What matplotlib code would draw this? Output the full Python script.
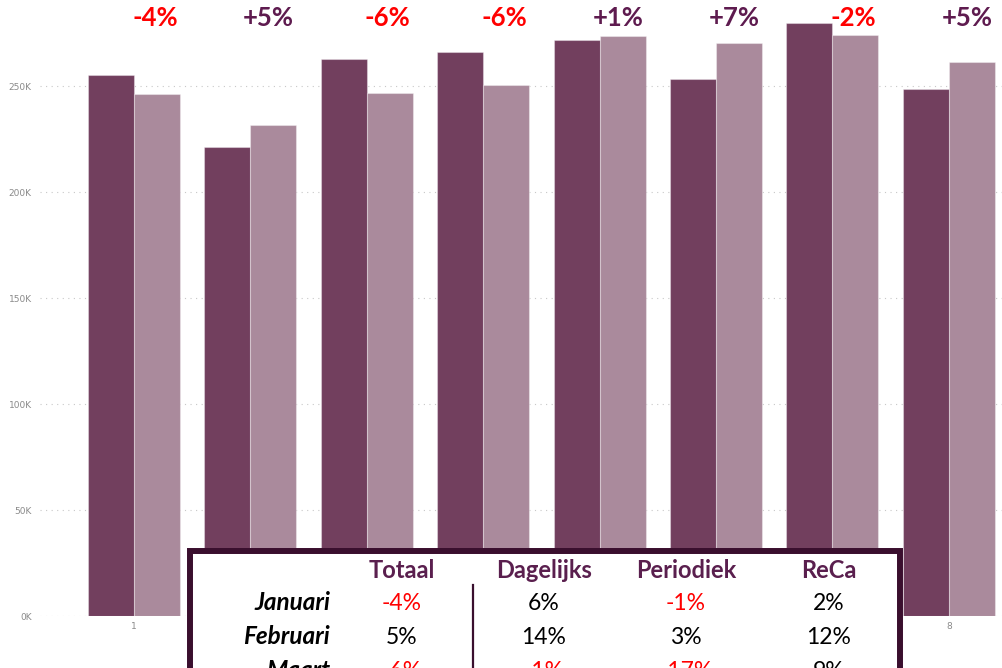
import matplotlib
matplotlib.use("Agg")
import matplotlib.pyplot as plt
from matplotlib.patches import Rectangle
from matplotlib.ticker import FuncFormatter
import numpy as np

# waarden per groep (in K)
categories = ["1", "2", "3", "4", "5", "6", "7", "8"]
vorig_jaar = [255.4, 221.3, 262.8, 266.1, 271.8, 253.7, 280.1, 248.8]
dit_jaar = [246.3, 231.8, 246.8, 250.6, 273.8, 270.7, 274.3, 261.6]
verschil = ["-4%", "+5%", "-6%", "-6%", "+1%", "+7%", "-2%", "+5%"]

# tabel
kolommen = ["Totaal", "Dagelijks", "Periodiek", "ReCa"]
maanden = ["Januari", "Februari", "Maart"]
tabel = [["-4%", "6%", "-1%", "2%"],
         ["5%", "14%", "3%", "12%"],
         ["-6%", "-1%", "-17%", "9%"]]

donker = "#723f5e"
licht = "#aa8a9c"
rood = "#ff0000"
paars = "#5e1b4f"

W, H = 1003, 668
fig = plt.figure(figsize=(W / 100, H / 100), dpi=100)
ax = fig.add_axes([40 / W, 1 - 616 / H, (W - 40) / W, 616 / H])

x = np.arange(len(categories))
bw = 0.395
ax.bar(x - bw / 2, vorig_jaar, bw, color=donker, edgecolor=(1, 1, 1, 0.35), linewidth=0.8, zorder=2)
ax.bar(x + bw / 2, dit_jaar, bw, color=licht, edgecolor=(1, 1, 1, 0.35), linewidth=0.8, zorder=2)

ax.set_xlim(-0.808, 7.466)
ax.set_ylim(0, 290.8)
ax.set_yticks([0, 50, 100, 150, 200, 250])
ax.yaxis.set_major_formatter(FuncFormatter(lambda v, p: f"{int(v)}K"))
ax.set_xticks(x)
ax.set_xticklabels(categories)
ax.tick_params(axis="both", length=0, labelsize=6.5, labelcolor="#8a8a8a")
ax.tick_params(axis="y", pad=6)
ax.tick_params(axis="x", pad=4)
ax.grid(axis="y", linestyle=(0, (1, 4)), color="#c8c8c8", linewidth=0.8, zorder=0)
for s in ax.spines.values():
    s.set_visible(False)

for i, lab in enumerate(verschil):
    kleur = rood if lab.startswith("-") else paars
    ax.text(i + 0.375, 290.8 - 18 / 2.118, lab, ha="right", va="center",
            fontsize=18.5, fontweight="bold", color=kleur, family="Lato", zorder=3)

# tabel-overlay
fig.add_artist(Rectangle((190 / W, -0.1), 710 / W, 0.1 + 1 - 551 / H,
                         transform=fig.transFigure, facecolor="white",
                         edgecolor="#3a0f2e", linewidth=4.3, zorder=5, clip_on=False))
fig.add_artist(plt.Line2D([473 / W, 473 / W], [-0.1, 1 - 585 / H], transform=fig.transFigure,
                          color="#3a0f2e", linewidth=1.6, zorder=6))

col_x = [402, 544, 686, 829]
rij_y = [603, 637, 671]
for cx, naam in zip(col_x, kolommen):
    fig.text(cx / W, 1 - 570 / H, naam, ha="center", va="center", fontsize=17,
             fontweight="bold", color="#5a1f4e", family="Lato", zorder=7)
for ry, maand, rij in zip(rij_y, maanden, tabel):
    fig.text(330 / W, 1 - ry / H, maand, ha="right", va="center", fontsize=17.5,
             fontweight="bold", fontstyle="italic", color="black", family="Lato", zorder=7)
    for cx, val in zip(col_x, rij):
        kleur = rood if val.startswith("-") else "black"
        fig.text(cx / W, 1 - ry / H, val, ha="center", va="center", fontsize=16.5,
                 color=kleur, family="Lato", zorder=7)

fig.savefig("out.png", dpi=100)
